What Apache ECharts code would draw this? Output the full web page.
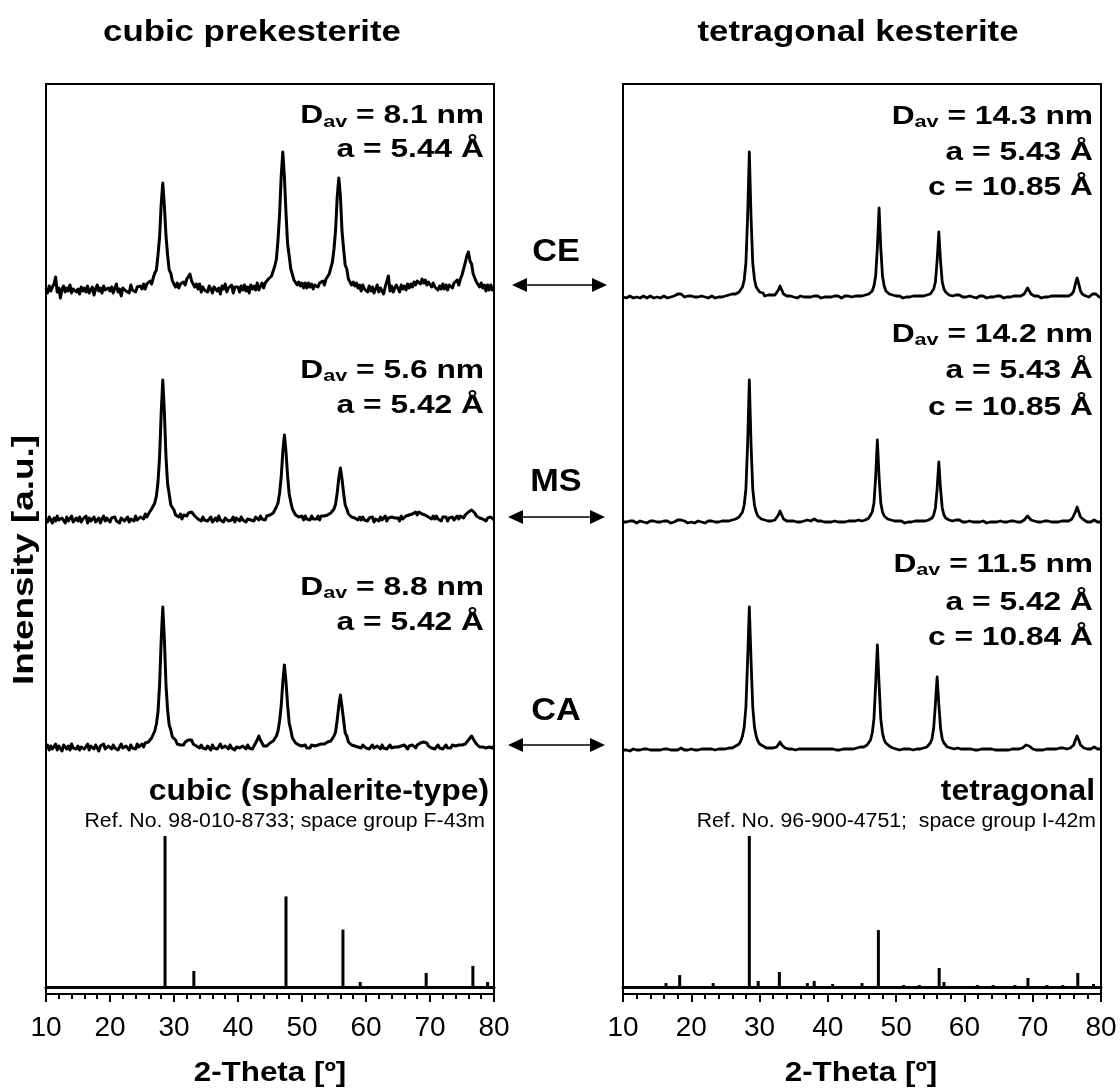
<!DOCTYPE html>
<html>
<head>
<meta charset="utf-8">
<script src="https://cdn.jsdelivr.net/npm/echarts@6/dist/echarts.min.js"></script>
<style>
  html, body { margin: 0; padding: 0; background: #fff; }
  #chart { width: 1120px; height: 1088px; }
</style>
</head>
<body>
<div id="chart"></div>
<script>
// Patterns are sampled on a regular 2-Theta grid: 10° ... 80° in 0.25° steps
const thetaStart = 10;
const thetaStep = 0.25;

// ---- cubic prekesterite: measured patterns (intensity, a.u.) ----
const cubicCE = [
  22,17,24,19,23,26,33,18,22,12,21,24,18,22,19,25,17,21,23,18,
  21,16,23,19,22,18,24,17,20,23,15,21,25,19,22,17,24,20,18,22,
  19,23,17,22,26,18,21,14,22,24,19,21,17,25,20,22,18,23,21,24,
  21,26,21,26,24,29,26,32,37,40,55,73,106,127,104,74,55,40,37,29,
  29,23,27,22,26,24,28,25,31,32,36,29,30,23,26,21,26,18,23,20,
  22,18,24,21,17,23,25,19,22,16,24,21,26,18,22,20,25,17,23,21,
  23,18,24,20,25,19,23,17,25,21,24,20,27,20,24,27,22,27,25,31,
  29,34,35,44,51,70,96,134,158,133,97,66,54,41,39,30,32,25,28,24,
  27,22,27,22,27,23,26,21,25,27,23,27,25,29,25,31,30,36,38,48,
  61,80,113,132,114,79,61,45,41,31,32,25,28,24,27,22,25,19,25,21,
  22,18,24,19,23,17,21,25,18,22,20,16,23,21,34,19,24,18,22,25,
  23,18,25,21,24,20,26,22,26,23,28,25,29,29,26,31,27,30,25,28,
  27,23,27,23,25,20,24,21,26,21,25,20,25,27,22,27,25,30,25,31,
  35,36,47,54,58,49,46,36,36,28,30,23,27,22,25,19,25,20,25,20,
  22
];
const cubicMS = [
  21,18,23,20,17,22,19,24,20,18,22,21,17,23,19,21,24,18,20,22,
  19,23,18,21,20,24,17,22,19,21,23,18,20,22,17,21,24,19,22,20,
  18,22,20,23,19,21,17,22,24,19,20,23,18,21,22,19,24,20,21,23,
  24,21,26,23,26,25,31,31,37,44,58,83,127,160,127,83,56,46,35,33,
  30,25,26,23,26,21,25,24,24,27,29,28,29,24,25,21,23,19,23,20,
  22,19,21,23,18,20,22,19,24,20,21,18,22,23,19,21,20,23,18,22,
  21,19,23,20,22,18,21,23,20,22,19,23,21,20,24,21,22,20,24,23,
  25,24,27,28,33,37,47,63,88,105,88,64,46,38,31,30,25,26,23,24,
  24,20,24,21,23,20,24,21,23,21,24,20,24,22,24,23,25,24,27,27,
  31,36,47,62,72,61,47,35,31,26,26,23,24,22,23,20,23,20,23,20,
  21,19,22,20,23,18,21,22,19,23,20,21,24,19,22,20,23,21,22,24,
  22,19,24,21,23,24,22,25,23,26,24,28,25,28,29,26,28,25,26,23,
  25,21,24,21,24,21,22,19,23,21,23,19,22,21,23,20,22,24,21,24,
  23,22,25,24,28,30,30,28,27,24,25,22,23,21,22,19,22,20,23,21,
  20
];
const cubicCA = [
  20,23,18,22,19,21,24,18,22,20,17,23,21,19,22,18,24,20,21,19,
  22,18,21,23,19,20,24,18,22,21,19,23,20,17,22,21,24,19,20,22,
  21,19,23,20,22,18,21,24,20,19,22,21,18,23,20,22,19,24,21,23,
  24,21,25,23,26,26,30,31,37,44,56,83,128,161,128,83,58,43,38,31,
  31,28,24,25,23,24,23,26,25,28,28,28,24,25,22,23,20,23,20,22,
  19,22,21,18,23,20,22,19,21,24,20,18,22,21,19,23,20,22,18,21,
  22,20,19,22,21,19,23,20,21,19,22,22,28,32,28,25,22,23,22,24,
  25,24,27,27,32,37,47,62,86,103,86,63,45,38,30,29,25,26,23,24,
  22,23,23,20,22,20,23,21,22,20,23,21,24,22,24,23,26,24,27,27,
  32,36,48,62,73,61,48,35,32,26,26,23,24,22,23,21,22,20,23,21,
  20,22,19,21,23,20,18,22,21,19,23,20,22,19,21,23,20,22,21,19,
  21,19,22,20,23,21,19,22,20,23,21,20,23,22,25,25,26,24,25,22,
  23,20,22,19,21,23,20,22,19,21,23,20,22,20,23,21,22,20,23,22,
  23,21,24,24,28,30,32,29,28,24,24,21,23,21,23,20,22,21,23,20,
  22
];

// ---- tetragonal kesterite: measured patterns (intensity, a.u.) ----
const tetraCE = [
  20,21,19,20,21,20,19,21,20,21,19,20,21,20,19,20,21,20,19,21,
  20,21,19,20,21,20,19,21,20,19,21,21,23,25,23,21,20,19,21,20,
  21,19,20,21,20,19,21,20,20,21,19,20,21,20,19,21,20,21,20,21,
  21,20,22,21,23,22,23,25,25,27,30,37,54,100,165,100,54,38,30,28,
  25,23,24,21,22,22,20,22,22,22,23,27,31,27,23,22,21,20,21,19,
  20,21,19,20,21,20,20,21,20,21,20,19,21,20,21,20,19,21,20,21,
  20,21,20,19,21,20,21,20,19,20,21,20,21,20,20,21,21,20,21,21,
  21,22,22,22,23,24,26,31,41,69,109,69,41,31,26,24,23,22,22,21,
  21,20,21,20,19,21,20,21,20,19,21,20,21,20,21,20,21,21,22,22,
  23,25,28,35,56,85,56,35,28,25,23,22,21,21,21,22,24,22,21,20,
  21,20,19,21,20,20,21,19,20,21,20,21,20,19,21,20,21,20,20,21,
  20,21,20,19,21,20,21,20,20,21,20,21,20,21,22,23,26,29,26,23,
  22,21,20,21,20,19,21,20,21,20,20,21,20,21,20,21,20,21,21,21,
  21,21,22,23,26,33,39,33,26,23,22,21,21,20,21,23,24,23,21,20,
  20
];
const tetraMS = [
  20,21,20,19,21,20,21,20,19,20,21,20,20,21,19,20,21,20,21,20,
  20,21,20,19,21,20,21,20,19,21,20,20,22,23,22,20,21,20,19,21,
  20,21,19,20,21,20,20,21,19,20,21,20,21,20,20,21,20,21,21,20,
  21,21,21,22,22,22,23,23,25,26,30,37,53,98,162,98,53,37,30,26,
  25,23,23,22,22,21,21,21,22,22,23,27,31,27,23,22,21,20,21,20,
  21,20,20,21,20,21,21,22,22,21,21,22,23,22,21,20,21,20,20,21,
  20,21,20,20,21,19,20,21,20,21,20,20,21,20,21,21,21,21,22,22,
  21,22,22,23,24,26,30,39,65,102,65,39,30,26,24,23,22,22,21,21,
  20,21,20,21,20,19,21,20,21,20,20,21,20,21,20,21,21,21,22,22,
  23,24,27,34,53,80,53,34,27,24,23,22,21,21,21,22,23,22,21,20,
  21,20,20,21,19,20,21,20,21,20,20,21,20,19,21,20,21,20,21,20,
  20,21,20,20,21,20,19,21,20,21,20,20,21,20,21,22,24,26,24,22,
  21,21,20,20,21,20,19,21,20,21,20,20,21,20,21,20,21,21,21,21,
  21,21,22,23,25,30,35,30,25,23,22,21,20,21,20,21,22,21,20,21,
  20
];
const tetraCA = [
  20,21,20,21,19,20,21,20,20,21,20,19,21,20,21,20,20,21,20,21,
  20,21,20,19,21,20,21,20,20,21,20,21,20,21,22,21,20,21,20,20,
  21,20,20,21,20,19,21,20,21,20,21,20,21,21,20,21,21,22,21,22,
  21,22,22,22,22,23,24,25,26,29,34,43,63,110,163,110,63,43,34,29,
  26,25,24,23,22,22,22,21,22,22,23,25,28,25,23,22,21,21,20,21,
  21,20,20,21,20,21,21,21,20,21,20,21,22,21,20,21,20,21,20,21,
  20,21,20,21,20,20,21,20,21,21,20,21,21,21,22,21,22,22,22,23,
  22,23,24,25,27,30,37,51,86,125,86,51,37,30,27,25,24,23,22,22,
  21,21,20,21,21,20,21,20,21,21,20,21,21,21,21,22,22,22,23,24,
  27,31,42,66,93,66,42,31,27,25,23,22,22,21,21,22,22,21,21,20,
  21,20,21,20,21,21,20,21,20,20,21,20,21,20,21,20,21,21,20,21,
  20,21,20,21,20,21,20,21,21,20,21,21,21,22,22,23,25,26,24,22,
  21,21,20,21,20,21,20,21,21,20,21,20,21,21,21,21,22,21,22,22,
  21,22,22,23,25,30,34,30,25,23,22,22,21,21,21,22,23,22,21,21,
  21
];

// ---- reference stick patterns (2-Theta, relative intensity %) ----
const cubicRefPos = [28.6, 33.1, 47.5, 56.4, 59.1, 69.4, 76.7, 79.0];
const cubicRefInt = [100, 10.6, 60, 38, 3.3, 9.3, 14, 3.3];
const tetraRefPos = [16.3, 18.3, 23.2, 28.5, 29.8, 32.9, 37.0, 38.0, 40.7, 45.0, 47.4, 51.1,
                     53.4, 56.3, 57.0, 61.9, 64.2, 67.4, 69.3, 72.1, 74.4, 76.6, 78.9];
const tetraRefInt = [2.6, 7.9, 2.6, 100, 4.0, 9.9, 2.6, 4.0, 2.0, 2.6, 37.7, 1.3,
                     1.3, 12.6, 3.3, 1.3, 1.3, 1.3, 6.0, 1.3, 1.3, 9.3, 2.0];

// ---- sample annotations ----
const sampleNames = ['CE', 'MS', 'CA'];
const cubicSize = ['8.1 nm', '5.6 nm', '8.8 nm'];
const cubicA = ['5.44 Å', '5.42 Å', '5.42 Å'];
const tetraSize = ['14.3 nm', '14.2 nm', '11.5 nm'];
const tetraA = ['5.43 Å', '5.43 Å', '5.42 Å'];
const tetraC = ['10.85 Å', '10.85 Å', '10.84 Å'];

// ---- layout ----
const FONT = '"Liberation Sans", Arial, Helvetica, sans-serif';
const PANEL_TOP = 84, PANEL_H = 910;
const STICK_TOP = 836, STICK_H = 151;
const TRACE_H = 200, TRACE_MAX = 200;

const panels = [
  {
    left: 46, width: 448, title: 'cubic prekesterite', titleX: 252, axisNameX: 270,
    traces: [cubicCE, cubicMS, cubicCA], traceTops: [110, 340, 568], traceWidth: 3,
    refPos: cubicRefPos, refInt: cubicRefInt,
    phase: 'cubic (sphalerite-type)', refText: 'Ref. No. 98-010-8733; space group F-43m',
    textRight: 484, phaseRight: 489, refRight: 485
  },
  {
    left: 623, width: 478, title: 'tetragonal kesterite', titleX: 858, axisNameX: 861,
    traces: [tetraCE, tetraMS, tetraCA], traceTops: [117, 342, 570], traceWidth: 2.8,
    refPos: tetraRefPos, refInt: tetraRefInt,
    phase: 'tetragonal', refText: 'Ref. No. 96-900-4751;  space group I-42m',
    textRight: 1093, phaseRight: 1095, refRight: 1096
  }
];

function toPoints(values) {
  return values.map((v, i) => [thetaStart + i * thetaStep, v]);
}

const grid = [], xAxis = [], yAxis = [], series = [];

function addGrid(g, xa, ya) {
  const idx = grid.length;
  grid.push(g);
  xAxis.push(Object.assign({ gridIndex: idx, type: 'value', min: 10, max: 80 }, xa));
  yAxis.push(Object.assign({ gridIndex: idx, type: 'value' }, ya));
  return idx;
}

panels.forEach(p => {
  // frame + 2-Theta axis
  addGrid(
    { left: p.left, width: p.width, top: PANEL_TOP, height: PANEL_H, show: true,
      borderColor: '#000', borderWidth: 2, backgroundColor: 'transparent' },
    {
      interval: 10,
      axisLine: { show: true, onZero: false, lineStyle: { color: '#000', width: 2 } },
      axisTick: { show: true, inside: false, length: 8, lineStyle: { color: '#000', width: 2 } },
      minorTick: { show: true, splitNumber: 5, length: 5, lineStyle: { color: '#000', width: 2 } },
      axisLabel: { fontSize: 28, color: '#000', fontFamily: FONT, margin: 20 },
      splitLine: { show: false }, minorSplitLine: { show: false }
    },
    { min: 0, max: 1, show: false }
  );

  // reference sticks
  const si = addGrid(
    { left: p.left, width: p.width, top: STICK_TOP, height: STICK_H },
    {
      axisLine: { show: true, lineStyle: { color: '#000', width: 3 } },
      axisTick: { show: false }, axisLabel: { show: false }, splitLine: { show: false }
    },
    { min: 0, max: 100, show: false }
  );
  series.push({
    type: 'bar', xAxisIndex: si, yAxisIndex: si, barWidth: 3,
    data: p.refPos.map((x, i) => [x, p.refInt[i]]),
    itemStyle: { color: '#000' }, silent: true, animation: false
  });

  // measured patterns
  p.traces.forEach((values, k) => {
    const ti = addGrid(
      { left: p.left, width: p.width, top: p.traceTops[k], height: TRACE_H },
      { show: false },
      { min: 0, max: TRACE_MAX, show: false }
    );
    series.push({
      type: 'line', xAxisIndex: ti, yAxisIndex: ti, data: toPoints(values),
      showSymbol: false, symbol: 'none', silent: true, animation: false,
      lineStyle: { color: '#000', width: p.traceWidth, join: 'round' }
    });
  });
});

// ---- text & arrows ----
const graphic = [];
function text(t, x, y, opt) {
  opt = opt || {};
  graphic.push({
    type: 'text', x: x, y: y, rotation: opt.rotation || 0, scaleX: opt.scaleX || 1, silent: true,
    style: {
      text: t, fill: '#000', fontFamily: FONT,
      fontSize: opt.size || 28, fontWeight: opt.weight || 'bold',
      align: opt.align || 'center', verticalAlign: 'middle'
    }
  });
}
const noteRich = {
  m: { fontSize: 25, fontWeight: 'bold', fontFamily: FONT, fill: '#000', lineHeight: 28 },
  s: { fontSize: 17, fontWeight: 'bold', fontFamily: FONT, fill: '#000', lineHeight: 12, verticalAlign: 'bottom' }
};
function note(t, x, y) {
  graphic.push({
    type: 'text', x: x, y: y, scaleX: 1.27, silent: true,
    style: { text: t, align: 'right', verticalAlign: 'middle', rich: noteRich }
  });
}

panels.forEach(p => {
  text(p.title, p.titleX, 33, { size: 29, scaleX: 1.2 });
  text('2-Theta [º]', p.axisNameX, 1073, { size: 28, scaleX: 1.12 });
  text(p.phase, p.phaseRight, 792, { size: 29, scaleX: 1.1, align: 'right' });
  text(p.refText, p.refRight, 822, { size: 19.5, weight: 'normal', scaleX: 1.09, align: 'right' });
});

// cubic annotations
const cubicDy = [116.5, 371, 588], cubicAy = [150, 406.5, 623];
cubicSize.forEach((d, k) => {
  note('{m|D}{s|av}{m| = ' + d + '}', panels[0].textRight, cubicDy[k]);
  note('{m|a = ' + cubicA[k] + '}', panels[0].textRight, cubicAy[k]);
});
// tetragonal annotations
const tetraDy = [117, 335, 565], tetraAy = [153, 371.5, 603], tetraCy = [188, 408, 638];
tetraSize.forEach((d, k) => {
  note('{m|D}{s|av}{m| = ' + d + '}', panels[1].textRight, tetraDy[k]);
  note('{m|a = ' + tetraA[k] + '}', panels[1].textRight, tetraAy[k]);
  note('{m|c = ' + tetraC[k] + '}', panels[1].textRight, tetraCy[k]);
});

text('Intensity [a.u.]', 25, 560, { size: 30, scaleX: 1.23, rotation: Math.PI / 2 });

// double arrows linking the two phases of each synthesis route
const arrowY = [285, 517, 745], arrowLabelY = [252, 482, 711];
const arrowX1 = [512, 508, 508], arrowX2 = [607, 605, 605];
sampleNames.forEach((name, k) => {
  const y = arrowY[k], x1 = arrowX1[k], x2 = arrowX2[k];
  text(name, 556, arrowLabelY[k], { size: 32, scaleX: 1.07 });
  graphic.push({ type: 'line', silent: true, shape: { x1: x1 + 10, y1: y, x2: x2 - 10, y2: y },
                 style: { stroke: '#000', lineWidth: 1.6 } });
  graphic.push({ type: 'polygon', silent: true, shape: { points: [[x1, y], [x1 + 15, y - 7], [x1 + 15, y + 7]] },
                 style: { fill: '#000' } });
  graphic.push({ type: 'polygon', silent: true, shape: { points: [[x2, y], [x2 - 15, y - 7], [x2 - 15, y + 7]] },
                 style: { fill: '#000' } });
});

const chart = echarts.init(document.getElementById('chart'), null, { renderer: 'canvas' });
chart.setOption({
  backgroundColor: '#fff',
  animation: false,
  grid: grid,
  xAxis: xAxis,
  yAxis: yAxis,
  series: series,
  graphic: graphic
});
</script>
</body>
</html>
